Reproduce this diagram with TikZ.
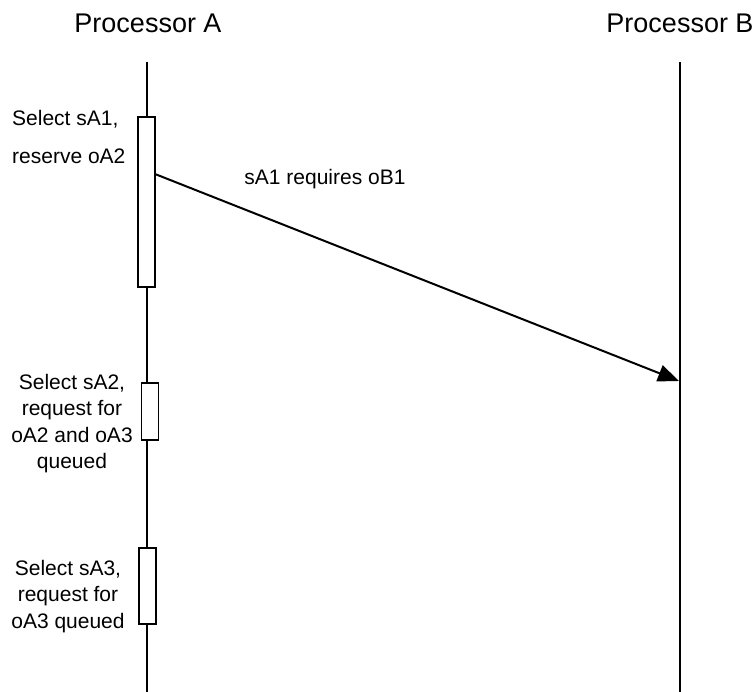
\documentclass[tikz,border=0pt]{standalone}
\usepackage{fontspec}
\setmainfont{Liberation Sans}
\usetikzlibrary{arrows.meta}

\tikzset{
  lifeline/.style={line width=1.6pt},
  actbox/.style={draw, line width=1.6pt, fill=white, minimum width=17pt, inner sep=0pt},
  msg/.style={line width=2pt, -{Triangle[length=21pt,width=17pt]}},
  proc/.style={font=\fontsize{27}{32}\selectfont, inner sep=0pt},
  note/.style={font=\fontsize{21}{26.5}\selectfont, inner sep=0pt}
}

\begin{document}
\begin{tikzpicture}[x=1pt,y=-1pt]
\useasboundingbox (0,0) rectangle (754,692);
% processors
\node[proc] (procA) at (148,23) {Processor A};
\node[proc] (procB) at (680,23) {Processor B};
\coordinate (topA) at (147,62);
\coordinate (botA) at (147,692);
\coordinate (topB) at (680,62);
\coordinate (botB) at (680,692);
\draw[lifeline] (topA) -- (botA);
\draw[lifeline, line width=2.6pt] (topB) -- (botB);

% activations on A
\node[actbox, minimum height=170pt] (act1) at (146.5,202) {};
\node[actbox, minimum height=57pt] (act2) at (150,411.5) {};
\node[actbox, minimum height=76pt] (act3) at (147.5,586) {};

% labels
\node[note, anchor=north west, align=left, font=\fontsize{21}{38}\selectfont] (lbl1) at (12,110) {Select sA1,\\reserve oA2};
\node[note, anchor=north, align=center] (lbl2) at (72,374) {Select sA2,\\request for\\oA2 and oA3\\queued};
\node[note, anchor=north, align=center] (lbl3) at (68,560) {Select sA3,\\request for\\oA3 queued};

% message
\coordinate (sendA) at (155,174);
\coordinate (recvB) at (679,381);
\draw[msg] (sendA) -- (recvB);
\node[note, anchor=base] (msg1) at (325,185) {sA1 requires oB1};
\end{tikzpicture}
\end{document}
